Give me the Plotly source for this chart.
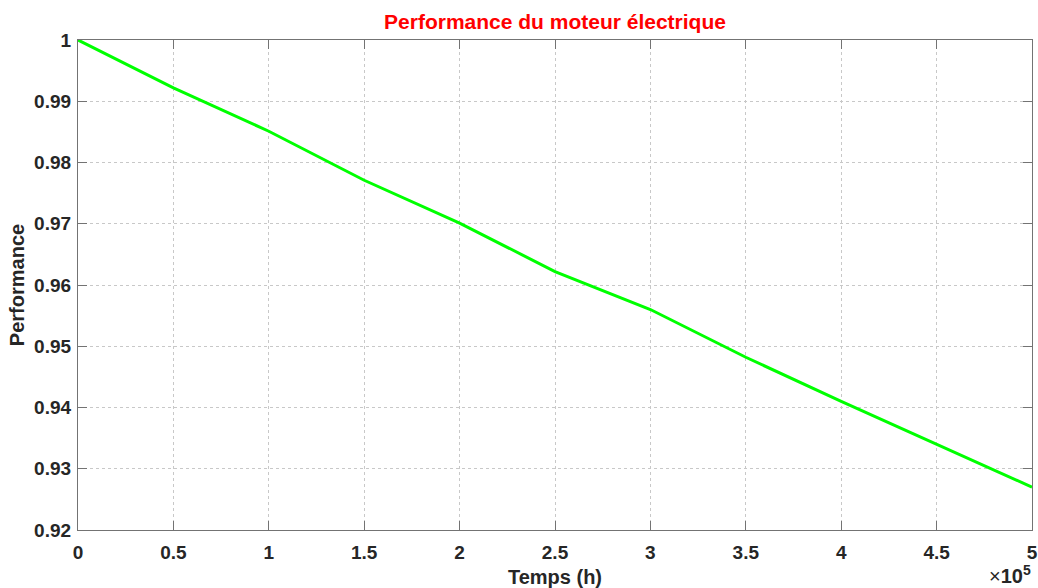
import plotly.graph_objects as go

# Operating time (hours) and normalised motor performance
temps_h = [0, 50000, 100000, 150000, 200000, 250000, 300000, 350000, 400000, 450000, 500000]
performance = [1.000, 0.9922, 0.9851, 0.9771, 0.9701, 0.9622, 0.9560, 0.9482, 0.9410, 0.9340, 0.9270]

x_tick_vals = [0, 50000, 100000, 150000, 200000, 250000, 300000, 350000, 400000, 450000, 500000]
x_tick_text = ["0", "0.5", "1", "1.5", "2", "2.5", "3", "3.5", "4", "4.5", "5"]
y_tick_vals = [0.92, 0.93, 0.94, 0.95, 0.96, 0.97, 0.98, 0.99, 1.0]
y_tick_text = ["0.92", "0.93", "0.94", "0.95", "0.96", "0.97", "0.98", "0.99", "1"]

FONT = "Liberation Sans, Arial, sans-serif"
AXIS_COLOR = "#737373"
TEXT_COLOR = "#262626"

fig = go.Figure()
fig.add_trace(go.Scatter(
    x=temps_h, y=performance, mode="lines",
    line=dict(color="#00ff00", width=3),
    showlegend=False,
))

axis_common = dict(
    showline=True, linecolor=AXIS_COLOR, linewidth=1.2, mirror="ticks",
    ticks="inside", ticklen=9, tickwidth=1.2, tickcolor=AXIS_COLOR,
    showgrid=True, gridcolor="#c8c8c8", griddash="dot", gridwidth=1,
    zeroline=False, automargin=False,
    tickfont=dict(family=FONT, size=19, color=TEXT_COLOR, weight="bold"),
)

fig.update_xaxes(
    range=[0, 500000], tickmode="array", tickvals=x_tick_vals, ticktext=x_tick_text,
    ticklabelstandoff=5,
    title=dict(text="<b>Temps (h)</b>", font=dict(family=FONT, size=20, color=TEXT_COLOR), standoff=8),
    **axis_common,
)
fig.update_yaxes(
    range=[0.92, 1.0], tickmode="array", tickvals=y_tick_vals, ticktext=y_tick_text,
    ticklabelstandoff=2,
    title=dict(text="<b>Performance</b>", font=dict(family=FONT, size=20, color=TEXT_COLOR), standoff=4),
    **axis_common,
)

# Scale factor for the time axis
fig.add_annotation(
    text="×<b>10<sup>5</sup></b>", xref="paper", yref="paper", x=1.0, y=-0.118,
    xanchor="right", yanchor="bottom", showarrow=False, borderpad=0,
    font=dict(family=FONT, size=20, color=TEXT_COLOR),
)

fig.update_layout(
    width=1038, height=588,
    margin=dict(l=78, r=6, t=40, b=58, pad=0),
    paper_bgcolor="white", plot_bgcolor="white",
    title=dict(
        text="<b>Performance du moteur électrique</b>",
        font=dict(family=FONT, size=21, color="#ff0000"),
        x=555 / 1038, xanchor="center", y=1 - 22 / 588, yanchor="middle",
    ),
)

fig.write_html("out.html")
